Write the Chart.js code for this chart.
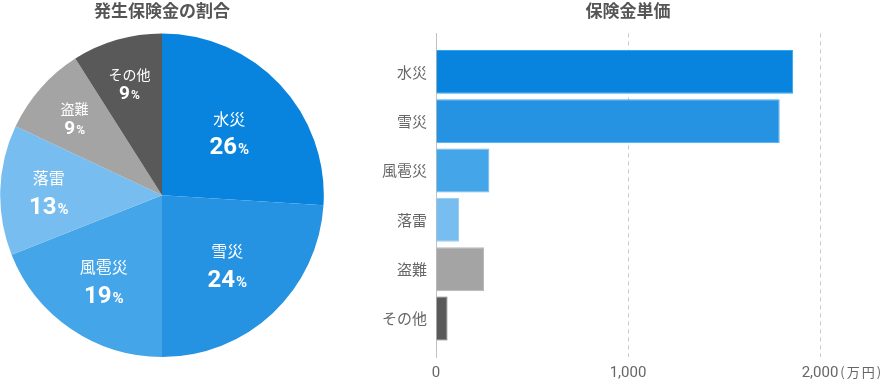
<!DOCTYPE html>
<html lang="ja">
<head>
<meta charset="utf-8">
<script src="https://cdn.jsdelivr.net/npm/chart.js@4/dist/chart.umd.min.js"></script>
<style>
  html, body { margin: 0; padding: 0; background: #fff; }
  body { width: 880px; height: 380px; position: relative; overflow: hidden; }
  #pie { position: absolute; left: 0; top: 0; }
  #bar { position: absolute; left: 360px; top: 0; }
</style>
</head>
<body>
<canvas id="pie" width="324" height="380"></canvas>
<canvas id="bar" width="520" height="380"></canvas>
<script>
const categories = ['水災', '雪災', '風雹災', '落雷', '盗難', 'その他'];
const shares = [26, 24, 19, 13, 9, 9];           // 発生保険金の割合 (%)
const unitPrices = [1860, 1790, 278, 120, 250, 60]; // 保険金単価 (万円)
const xTicks = [0, 1000, 2000];
const colors = ['#0984de', '#2592e2', '#44a5e8', '#78bdef', '#a4a4a4', '#595959'];
const edgeColors = ['#2ea6f2', '#45aaf0', '#6ab9f0', '#98cdf4', '#b8b8b8', '#707070'];

const FONT = "Roboto, 'Noto Sans CJK JP', sans-serif";
const CJK = "'Noto Sans CJK JP', sans-serif";
const TEXT = '#666';

// white labels inside the pie slices
const sliceLabels = {
    id: 'sliceLabels',
    afterDatasetsDraw(chart) {
        const ctx = chart.ctx;
        const meta = chart.getDatasetMeta(0);
        meta.data.forEach((arc, i) => {
            const p = arc.getProps(['x', 'y', 'startAngle', 'endAngle', 'outerRadius'], true);
            const pct = shares[i];
            const mid = (p.startAngle + p.endAngle) / 2;
            const frac = Math.min(0.72, Math.max(0.57, 0.83 - pct / 100));
            const cx = p.x + Math.cos(mid) * p.outerRadius * frac;
            const cy = p.y + Math.sin(mid) * p.outerRadius * frac;
            const big = pct >= 13;
            const nameSize = big ? 16 : 14;
            const numSize = big ? 24 : 19;
            const pctSize = big ? 15 : 12;
            const off = big ? 13.5 : 9;

            ctx.save();
            ctx.fillStyle = '#fff';
            ctx.textBaseline = 'middle';
            ctx.textAlign = 'center';
            ctx.font = `${nameSize}px ${CJK}`;
            ctx.fillText(categories[i], cx, cy - off);

            const num = String(pct);
            ctx.font = `bold ${numSize}px ${FONT}`;
            const wNum = ctx.measureText(num).width;
            ctx.font = `bold ${pctSize}px ${FONT}`;
            const wPct = ctx.measureText('%').width;
            const x0 = cx - (wNum + wPct + 1) / 2;
            ctx.textAlign = 'left';
            ctx.textBaseline = 'alphabetic';
            const base = cy + off + numSize * 0.36;
            ctx.font = `bold ${numSize}px ${FONT}`;
            ctx.fillText(num, x0, base);
            ctx.font = `bold ${pctSize}px ${FONT}`;
            ctx.fillText('%', x0 + wNum + 1, base);
            ctx.restore();
        });
    }
};

new Chart(document.getElementById('pie'), {
    type: 'pie',
    data: {
        labels: categories,
        datasets: [{
            data: shares,
            backgroundColor: colors,
            borderWidth: 0
        }]
    },
    options: {
        responsive: false,
        animation: false,
        layout: { padding: { bottom: 23 } },
        plugins: {
            legend: { display: false },
            tooltip: { enabled: false },
            title: {
                display: true,
                text: '発生保険金の割合',
                color: '#555',
                font: { family: CJK, size: 17, weight: 'bold', lineHeight: 1.2 },
                padding: { top: 0, bottom: 13 }
            }
        }
    },
    plugins: [sliceLabels]
});

// "(万円)" after the last x tick
const unitLabel = {
    id: 'unitLabel',
    afterDraw(chart) {
        const ctx = chart.ctx;
        const x = chart.scales.x;
        const last = xTicks[xTicks.length - 1];
        ctx.save();
        ctx.font = `15px ${FONT}`;
        const w = ctx.measureText(last.toLocaleString('en-US')).width;
        ctx.font = `13px ${CJK}`;
        ctx.letterSpacing = '2px';
        ctx.fillStyle = TEXT;
        ctx.textAlign = 'left';
        ctx.textBaseline = 'middle';
        ctx.fillText('(万円)', x.getPixelForValue(last) + w / 2 + 2, chart.chartArea.bottom + 15);
        ctx.restore();
    }
};

new Chart(document.getElementById('bar'), {
    type: 'bar',
    data: {
        datasets: [{
            data: unitPrices.map((v, i) => ({ x: v, y: i })),
            backgroundColor: colors,
            borderColor: edgeColors,
            borderWidth: 1,
            categoryPercentage: 0.89,
            barPercentage: 1
        }]
    },
    options: {
        indexAxis: 'y',
        responsive: false,
        animation: false,
        layout: { padding: { right: 60, bottom: 0 } },
        plugins: {
            legend: { display: false },
            tooltip: { enabled: false },
            title: {
                display: true,
                fullSize: false,
                text: '保険金単価',
                color: '#555',
                font: { family: CJK, size: 17, weight: 'bold', lineHeight: 1.2 },
                padding: { top: 0, bottom: 13 }
            }
        },
        scales: {
            x: {
                type: 'linear',
                min: xTicks[0],
                max: xTicks[xTicks.length - 1],
                afterBuildTicks: s => { s.ticks = xTicks.map(v => ({ value: v })); },
                afterFit: s => { s.height = 23; },
                ticks: {
                    color: TEXT,
                    font: { family: FONT, size: 15 },
                    padding: 7,
                    maxRotation: 0,
                    callback: v => v.toLocaleString('en-US')
                },
                grid: {
                    drawTicks: false,
                    color: c => c.tick && c.tick.value === 0 ? 'rgba(0,0,0,0)' : '#c8c8c8'
                },
                border: { display: false, dash: [4, 4] }
            },
            y: {
                type: 'linear',
                reverse: true,
                offset: false,
                min: -0.78,
                max: categories.length - 0.22,
                afterFit: s => { s.width = 76; },
                ticks: {
                    stepSize: 1,
                    includeBounds: false,
                    color: TEXT,
                    padding: 9,
                    font: { family: CJK, size: 15 },
                    callback: v => categories[v] ?? ''
                },
                grid: { display: false, drawTicks: false, offset: false },
                border: { display: true, color: '#c0c0c0', width: 1 }
            }
        }
    },
    plugins: [unitLabel]
});
</script>
</body>
</html>
